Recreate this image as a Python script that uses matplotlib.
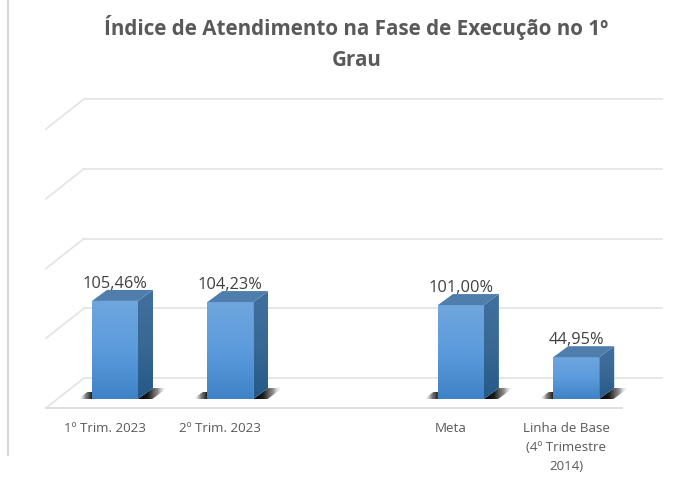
import numpy as np
from matplotlib import pyplot as plt
from matplotlib.colors import LinearSegmentedColormap
from matplotlib.patches import Polygon

categories = ["1º Trim. 2023", "2º Trim. 2023", "Meta", "Linha de Base\n(4º Trimestre\n2014)"]
positions = [0, 1, 3, 4]
values = [105.46, 104.23, 101.00, 44.95]
value_labels = ["105,46%", "104,23%", "101,00%", "44,95%"]
grid_values = [0, 75, 150, 225, 300]

plt.rcParams['font.family'] = ['Open Sans', 'DejaVu Sans']

fig = plt.figure(figsize=(6.95, 4.83), dpi=100)
ax = fig.add_axes([0, 0, 1, 1])
ax.axis('off')

# one category = 115.3 px, one percent = 0.93 px
x_per_px = 1 / 115.3
y_per_px = 1 / 0.93
xlim = (-115 * x_per_px, 580 * x_per_px)
ylim = (-84 * y_per_px, 399 * y_per_px)

half = 23 * x_per_px
dx = 15 * x_per_px
dy = 11 * y_per_px

front_cmap = LinearSegmentedColormap.from_list('front', ['#6fa6de', '#5b9bdc', '#3f83c6'])
side_cmap = LinearSegmentedColormap.from_list('side', ['#41709f', '#3a6894', '#245987'])
top_color = '#4f7dac'

floor_front = -9.7
wall_shift = 30 * y_per_px
wall_left = -31 * x_per_px
wall_right = 547 * x_per_px
front_left = -69 * x_per_px
front_right = 507 * x_per_px

# walls and floor
for g in grid_values:
    y_front = floor_front + g
    y_back = y_front + wall_shift
    ax.plot([front_left, wall_left], [y_front, y_back], color='#e3e3e3', lw=1.2, zorder=1)
    ax.plot([wall_left, wall_right], [y_back, y_back], color='#e3e3e3', lw=1.2, zorder=1)
ax.plot([front_left, front_right], [floor_front, floor_front], color='#dcdcdc', lw=1.3, zorder=1)

# frame edge on the left of the picture
ax.plot([-107 * x_per_px] * 2, [-56 * y_per_px, 399 * y_per_px], color='#d4d4d4', lw=1.3, zorder=1)


def gradient(cmap, verts, horizontal=False, zorder=3):
    xs, ys = zip(*verts)
    data = np.linspace(0, 1, 64).reshape(-1, 1)
    if horizontal:
        data = data.T
    im = ax.imshow(data, cmap=cmap, origin='upper', aspect='auto', zorder=zorder,
                   extent=(min(xs), max(xs), min(ys), max(ys)))
    im.set_clip_path(Polygon(verts, closed=True, transform=ax.transData))


shadow_r = LinearSegmentedColormap.from_list('sr', [(0, 0, 0, 1), (0.05, 0.05, 0.05, 0.95),
                                                    (0.25, 0.25, 0.25, 0.6), (1, 1, 1, 0)])
shadow_l = LinearSegmentedColormap.from_list('sl', [(1, 1, 1, 0), (0.2, 0.2, 0.2, 0.6), (0.05, 0.05, 0.05, 1)])

for pos, val, lab, name in zip(positions, values, value_labels, categories):
    left, right = pos - half, pos + half

    # floor shadow
    gradient(shadow_r, [(right, 0), (right + dx, dy), (right + 1.95 * dx, dy), (right + 0.95 * dx, 0)],
             horizontal=True, zorder=2)
    gradient(shadow_l, [(left - 0.95 * dx, 0), (left - 0.3 * dx, 7 * y_per_px), (left, 7 * y_per_px), (left, 0)],
             horizontal=True, zorder=2)

    # faces of the bar
    gradient(front_cmap, [(left, 0), (right, 0), (right, val), (left, val)])
    gradient(side_cmap, [(right, 0), (right + dx, dy), (right + dx, val + dy), (right, val)])
    ax.add_patch(Polygon([(left, val), (right, val), (right + dx, val + dy), (left + dx, val + dy)],
                         closed=True, facecolor=top_color, edgecolor='none', zorder=3))

    ax.text(pos, val + 9 * y_per_px, lab, ha='center', va='bottom', fontsize=11.8,
            color='#404040', linespacing=1, zorder=4)
    ax.text(pos - 10 * x_per_px, -23 * y_per_px, name, ha='center', va='top', fontsize=9.6,
            color='#595959', linespacing=1.58, zorder=4)

ax.set_xlim(xlim)
ax.set_ylim(ylim)

ax.text(0.513, 0.968, "Índice de Atendimento na Fase de Execução no 1º\nGrau", transform=ax.transAxes,
        ha='center', va='top', fontsize=14.9, fontweight='bold', color='#595959', linespacing=1.58)

fig.savefig('out.png', dpi=100)
